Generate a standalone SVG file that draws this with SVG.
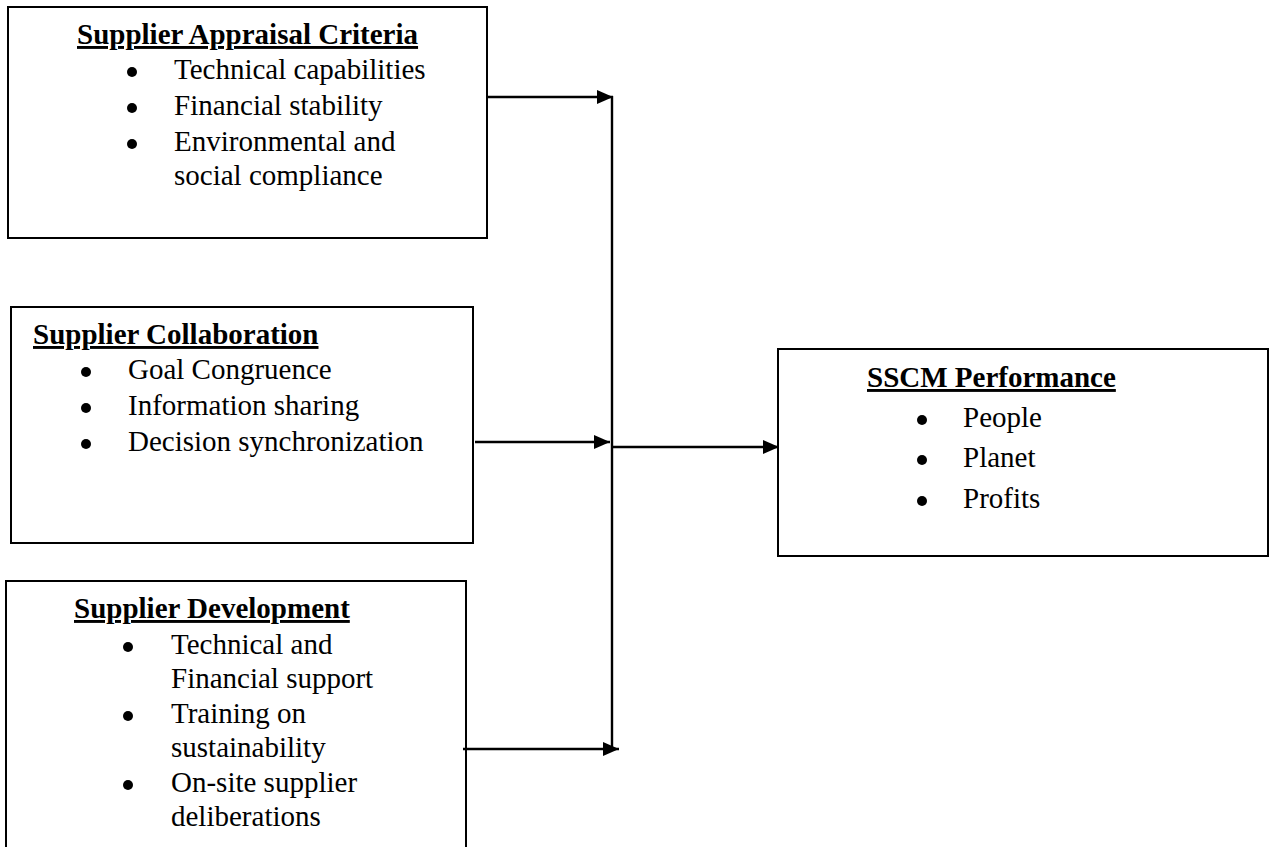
<svg xmlns="http://www.w3.org/2000/svg" width="1270" height="847" viewBox="0 0 1270 847">
<style>
.box{fill:#fff;stroke:#000;stroke-width:2}
.t{font-family:"Liberation Serif","Times New Roman",serif;font-size:29px;fill:#000}
.h{font-weight:bold;text-decoration:underline}
.dot{fill:#000}
.c{stroke:#000;stroke-width:2.4;fill:none}
</style>
<defs>
<marker id="ah" viewBox="0 0 16 14" refX="16" refY="7" markerWidth="16" markerHeight="14" markerUnits="userSpaceOnUse" orient="auto">
<path d="M0,0 L16,7 L0,14 Z" fill="#000"/>
</marker>
</defs>
<rect width="1270" height="847" fill="#fff"/>
<g id="node-appraisal">
<rect class="box" x="8" y="7" width="479" height="231"/>
<text class="t h" x="77" y="44">Supplier Appraisal Criteria</text>
<circle class="dot" cx="132" cy="72" r="5"/><text class="t" x="174" y="79">Technical capabilities</text>
<circle class="dot" cx="132" cy="108" r="5"/><text class="t" x="174" y="115">Financial stability</text>
<circle class="dot" cx="132" cy="144" r="5"/><text class="t" x="174" y="151">Environmental and</text>
<text class="t" x="174" y="185">social compliance</text>
</g>
<g id="node-collaboration">
<rect class="box" x="11" y="307" width="462" height="236"/>
<text class="t h" x="33" y="344">Supplier Collaboration</text>
<circle class="dot" cx="86" cy="372" r="5"/><text class="t" x="128" y="379">Goal Congruence</text>
<circle class="dot" cx="86" cy="408" r="5"/><text class="t" x="128" y="415">Information sharing</text>
<circle class="dot" cx="86" cy="444" r="5"/><text class="t" x="128" y="451">Decision synchronization</text>
</g>
<g id="node-development">
<rect class="box" x="6" y="581" width="460" height="280"/>
<text class="t h" x="74" y="618">Supplier Development</text>
<circle class="dot" cx="128" cy="647" r="5"/><text class="t" x="171" y="654">Technical and</text>
<text class="t" x="171" y="688">Financial support</text>
<circle class="dot" cx="128" cy="716" r="5"/><text class="t" x="171" y="723">Training on</text>
<text class="t" x="171" y="757">sustainability</text>
<circle class="dot" cx="128" cy="785" r="5"/><text class="t" x="171" y="792">On-site supplier</text>
<text class="t" x="171" y="826">deliberations</text>
</g>
<g id="node-performance">
<rect class="box" x="778" y="349" width="490" height="207"/>
<text class="t h" x="867" y="387">SSCM Performance</text>
<circle class="dot" cx="922" cy="420" r="5"/><text class="t" x="963" y="427">People</text>
<circle class="dot" cx="922" cy="460" r="5"/><text class="t" x="963" y="467">Planet</text>
<circle class="dot" cx="922" cy="501" r="5"/><text class="t" x="963" y="508">Profits</text>
</g>
<g id="connectors">
<line class="c" x1="612" y1="96" x2="612" y2="750"/>
<line class="c" x1="487" y1="97" x2="613" y2="97" marker-end="url(#ah)"/>
<line class="c" x1="475" y1="442" x2="610" y2="442" marker-end="url(#ah)"/>
<line class="c" x1="463" y1="749" x2="619" y2="749" marker-end="url(#ah)"/>
<line class="c" x1="612" y1="447" x2="779" y2="447" marker-end="url(#ah)"/>
</g>
</svg>
